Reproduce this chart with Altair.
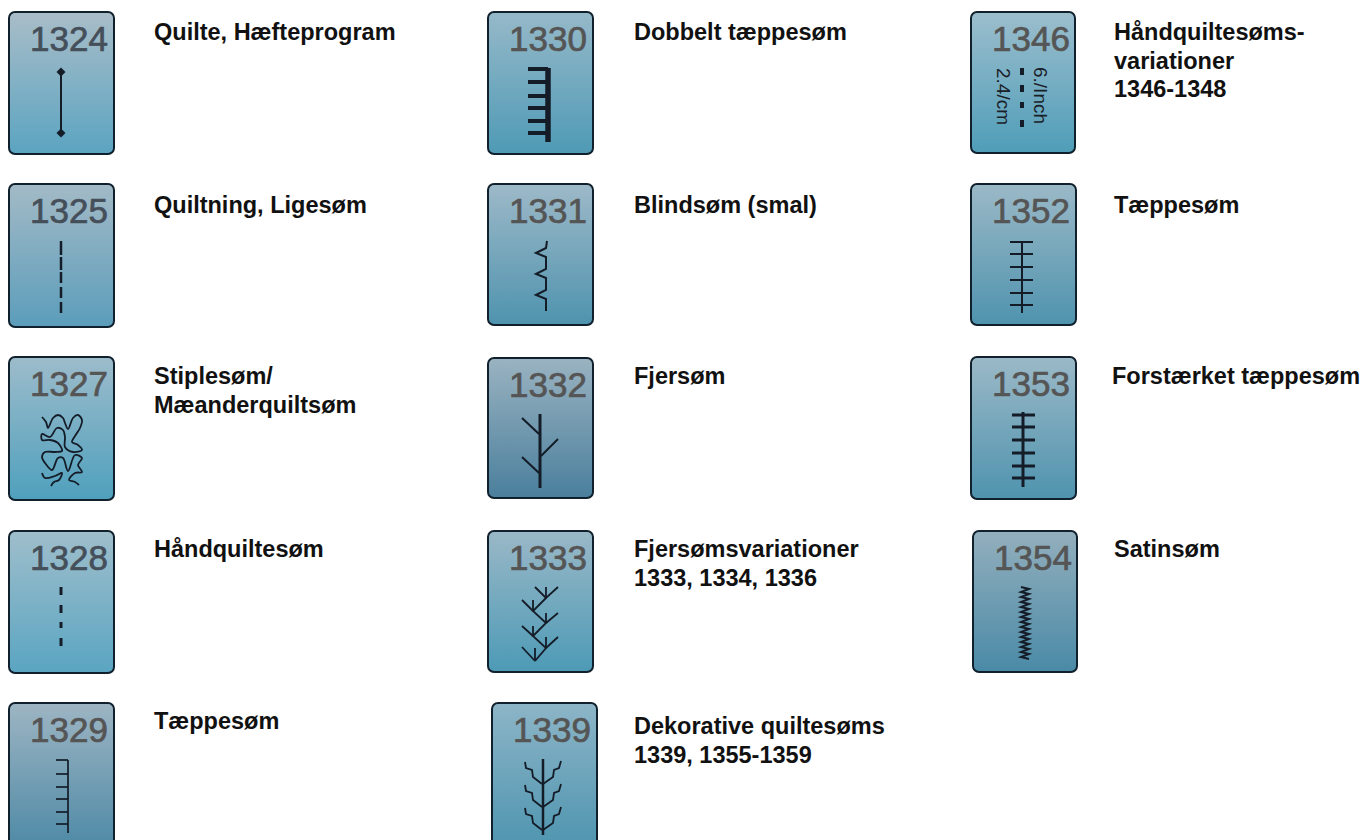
import altair as alt
import pandas as pd

# ---- tiles: stitch number, catalogue text, grid position
codes = ["1324", "1325", "1327", "1328", "1329",
         "1330", "1331", "1332", "1333", "1339",
         "1346", "1352", "1353", "1354"]
labels = [["Quilte, Hæfteprogram"], ["Quiltning, Ligesøm"], ["Stiplesøm/", "Mæanderquiltsøm"],
          ["Håndquiltesøm"], ["Tæppesøm"],
          ["Dobbelt tæppesøm"], ["Blindsøm (smal)"], ["Fjersøm"],
          ["Fjersømsvariationer", "1333, 1334, 1336"], ["Dekorative quiltesøms", "1339, 1355-1359"],
          ["Håndquiltesøms-", "variationer", "1346-1348"], ["Tæppesøm"],
          ["Forstærket tæppesøm"], ["Satinsøm"]]
tile_left = [9, 9, 9, 9, 9, 488, 488, 488, 488, 492, 971, 971, 971, 973]
tile_top = [12, 184, 357, 531, 703, 12, 184, 358, 531, 703, 12, 184, 357, 531]
tile_right = [114, 114, 114, 114, 114, 593, 593, 593, 593, 597, 1075, 1076, 1076, 1077]
tile_bottom = [154, 327, 500, 673, 846, 154, 325, 498, 672, 846, 153, 325, 499, 672]
label_left = [154, 154, 154, 154, 154, 634, 634, 634, 634, 634, 1114, 1114, 1112, 1114]
label_mid = [33, 206, 377, 550, 722, 33, 206, 377, 550, 727, 33, 206, 377, 550]
grad_top = ["#a9bdc8", "#a3bac6", "#9dbccb", "#9fbecb", "#9db5c3", "#96b9c9", "#9db9c8",
            "#9ab3c1", "#9ab8c7", "#8db5c7", "#9cbecd", "#9bb9c7", "#9bb9c7", "#93afbd"]
grad_bottom = ["#5ba4c1", "#5b9dbb", "#4fa0bd", "#5aa5c2", "#4f8aa6", "#4f9ab5", "#4f93ae",
               "#4a7f9c", "#4d9ab6", "#4f95b0", "#4f9db8", "#4f93ae", "#4f93ae", "#4a8aa6"]
num_color = ["#454f5a", "#454f5a", "#555555", "#454f5a", "#555555", "#555555", "#555555",
             "#555555", "#555555", "#555555", "#555555", "#555555", "#555555", "#555555"]

# ---- stitch drawings, in pixels from each tile's top-left corner: (code, width, points)
stitches = [
    ("1324", 2.0, [(52, 60), (52, 121)]),
    ("1325", 2.5, [(52, 57), (52, 71)]), ("1325", 2.5, [(52, 73), (52, 86)]),
    ("1325", 2.5, [(52, 88), (52, 99)]), ("1325", 2.5, [(52, 103), (52, 114)]),
    ("1325", 2.5, [(52, 118), (52, 129)]),
    ("1328", 3.0, [(52, 56), (52, 64)]), ("1328", 3.0, [(52, 74), (52, 82)]),
    ("1328", 3.0, [(52, 91), (52, 97)]), ("1328", 3.0, [(52, 107), (52, 115)]),
    ("1329", 1.7, [(59, 57), (59, 130)]), ("1329", 1.7, [(47, 57), (59, 57)]),
    ("1329", 1.7, [(47, 71), (59, 71)]), ("1329", 1.7, [(47, 84), (59, 84)]),
    ("1329", 1.7, [(47, 96), (59, 96)]), ("1329", 1.7, [(47, 109), (59, 109)]),
    ("1329", 1.7, [(47, 121), (59, 121)]),
    ("1330", 5.5, [(60, 56), (60, 130)]), ("1330", 4.0, [(40, 57), (60, 57)]),
    ("1330", 4.0, [(40, 70), (60, 70)]), ("1330", 4.0, [(40, 84), (60, 84)]),
    ("1330", 4.0, [(40, 96), (60, 96)]), ("1330", 4.0, [(40, 109), (60, 109)]),
    ("1330", 4.0, [(40, 121), (60, 121)]),
    ("1331", 2.0, [(59, 57), (58, 64), (48, 69), (58, 73), (58, 85), (48, 90), (58, 94),
                   (58, 106), (48, 111), (58, 115), (58, 127)]),
    ("1332", 3.0, [(52, 56), (52, 130)]), ("1332", 2.0, [(34, 60), (51, 76)]),
    ("1332", 2.0, [(70, 81), (53, 98)]), ("1332", 2.0, [(34, 99), (51, 115)]),
    ("1333", 1.8, [(58, 67), (45, 80), (58, 92), (45, 105), (58, 117), (47, 130)]),
    ("1333", 1.8, [(47, 56), (58, 67), (70, 56)]), ("1333", 1.8, [(58, 56), (58, 67)]),
    ("1333", 1.8, [(34, 69), (45, 80)]), ("1333", 1.8, [(45, 69), (45, 80)]),
    ("1333", 1.8, [(70, 82), (58, 92)]), ("1333", 1.8, [(58, 82), (58, 92)]),
    ("1333", 1.8, [(34, 95), (45, 105)]), ("1333", 1.8, [(45, 95), (45, 105)]),
    ("1333", 1.8, [(70, 106), (58, 117)]), ("1333", 1.8, [(58, 106), (58, 117)]),
    ("1333", 1.8, [(34, 116), (47, 130)]), ("1333", 1.8, [(47, 117), (47, 130)]),
    ("1339", 2.5, [(51, 56), (51, 132)]),
    ("1339", 1.8, [(33, 59), (34, 65), (40, 67), (41, 74), (50, 81)]),
    ("1339", 1.8, [(69, 58), (67, 65), (62, 67), (61, 74), (51, 81)]),
    ("1339", 1.8, [(33, 82), (34, 88), (40, 90), (41, 97), (50, 104)]),
    ("1339", 1.8, [(69, 81), (67, 88), (62, 90), (61, 97), (51, 104)]),
    ("1339", 1.8, [(33, 105), (34, 111), (40, 113), (41, 120), (50, 127)]),
    ("1339", 1.8, [(69, 104), (67, 111), (62, 113), (61, 120), (51, 127)]),
    ("1346", 4.0, [(51, 56), (51, 63)]), ("1346", 4.0, [(51, 73), (51, 80)]),
    ("1346", 4.0, [(51, 90), (51, 96)]), ("1346", 4.0, [(51, 108), (51, 115)]),
    ("1352", 2.0, [(51, 57), (51, 129)]), ("1352", 2.0, [(39, 58), (62, 58)]),
    ("1352", 2.0, [(39, 70), (62, 70)]), ("1352", 2.0, [(39, 83), (62, 83)]),
    ("1352", 2.0, [(39, 96), (62, 96)]), ("1352", 2.0, [(39, 109), (62, 109)]),
    ("1352", 2.0, [(39, 121), (62, 121)]),
    ("1353", 3.0, [(52, 55), (52, 130)]), ("1353", 3.0, [(41, 58), (64, 58)]),
    ("1353", 3.0, [(41, 70), (64, 70)]), ("1353", 3.0, [(41, 83), (64, 83)]),
    ("1353", 3.0, [(41, 96), (64, 96)]), ("1353", 3.0, [(41, 109), (64, 109)]),
    ("1353", 3.0, [(41, 121), (64, 121)]),
    ("1354", 2.0, [(48, 56), (56, 58), (48, 61), (56, 63), (48, 66), (56, 68), (48, 71), (56, 73),
                   (48, 76), (56, 78), (48, 81), (56, 83), (48, 86), (56, 88), (48, 91), (56, 93),
                   (48, 96), (56, 98), (48, 101), (56, 103), (48, 106), (56, 108), (48, 111),
                   (56, 113), (48, 116), (56, 118), (48, 121), (56, 123), (48, 126), (56, 128)]),
]
# the free-running meander of stitch 1327 is drawn as a smooth curve
meanders = [
    ("1327", 1.8, [(33, 60), (37, 65), (39, 71), (44, 61), (49, 58), (54, 61), (56, 66), (59, 72),
                   (64, 61), (69, 58), (73, 63), (71, 71), (66, 79), (63, 85), (69, 88), (73, 93),
                   (64, 95), (56, 90), (56, 80), (54, 73), (48, 71), (41, 80), (33, 77), (33, 83),
                   (41, 83), (49, 86), (53, 94), (46, 95), (36, 95), (33, 100), (36, 106), (43, 113),
                   (49, 101), (54, 101), (59, 114), (66, 98), (73, 101), (69, 108), (73, 115),
                   (66, 116), (60, 123), (66, 125), (70, 128)]),
    ("1327", 1.8, [(33, 116), (36, 121), (46, 119), (53, 116), (50, 123), (45, 125), (42, 129)]),
]
knots = [("1324", 52, 60), ("1324", 52, 121)]
rotated_notes = [("1346", "6./Inch", 69, 55), ("1346", "2.4/cm", 32, 56)]

# ---- tables built from the arrays
left_of = dict(zip(codes, tile_left))
top_of = dict(zip(codes, tile_top))


def path_table(paths):
    rows = []
    for pid, (code, w, pts) in enumerate(paths):
        for k, (px, py) in enumerate(pts):
            rows.append({"pid": pid, "k": k, "w": w,
                         "x": left_of[code] + px, "y": top_of[code] + py})
    return pd.DataFrame(rows)


lines_df = path_table(stitches)
meander_df = path_table(meanders)
knots_df = pd.DataFrame([{"x": left_of[c] + px, "y": top_of[c] + py} for c, px, py in knots])
notes_df = pd.DataFrame([{"t": t, "x": left_of[c] + px, "y": top_of[c] + py} for c, t, px, py in rotated_notes])
nums_df = pd.DataFrame({"t": codes, "x": [l + 21 for l in tile_left], "y": [t + 28 for t in tile_top], "c": num_color})
label_rows = []
for lab, lx, ly in zip(labels, label_left, label_mid):
    for i, s in enumerate(lab):
        label_rows.append({"t": s, "x": lx, "y": ly + 28.5 * i})
labels_df = pd.DataFrame(label_rows)

X = alt.Scale(domain=[8, 1361], nice=False, zero=False)
Y = alt.Scale(domain=[840, 8], nice=False, zero=False)
ex = alt.X("x:Q", scale=X, axis=None)
ey = alt.Y("y:Q", scale=Y, axis=None)

layers = []
for i in range(len(codes)):
    df = pd.DataFrame([{"x": tile_left[i], "x2": tile_right[i], "y": tile_top[i], "y2": tile_bottom[i]}])
    grad = alt.Gradient(gradient="linear", x1=0, y1=0, x2=0, y2=1,
                        stops=[alt.GradientStop(color=grad_top[i], offset=0),
                               alt.GradientStop(color=grad_bottom[i], offset=1)])
    layers.append(alt.Chart(df).mark_rect(fill=grad, stroke="#10202c", strokeWidth=2,
                                          cornerRadius=6, clip=True).encode(
        x=ex, x2="x2:Q", y=ey, y2="y2:Q"))

layers.append(alt.Chart(nums_df).mark_text(align="left", baseline="middle", font="Liberation Sans",
                                           fontSize=35, strokeWidth=0.7).encode(
    x=ex, y=ey, text="t:N", color=alt.Color("c:N", scale=None), stroke=alt.Stroke("c:N", scale=None)))
layers.append(alt.Chart(lines_df).mark_line(color="#141c28", strokeCap="butt", strokeJoin="miter").encode(
    x=ex, y=ey, detail="pid:N", order="k:Q", strokeWidth=alt.StrokeWidth("w:Q", scale=None)))
layers.append(alt.Chart(meander_df).mark_line(color="#141c28", interpolate="catmull-rom").encode(
    x=ex, y=ey, detail="pid:N", order="k:Q", strokeWidth=alt.StrokeWidth("w:Q", scale=None)))
layers.append(alt.Chart(knots_df).mark_point(shape="diamond", filled=True, size=80, color="#141c28", opacity=1).encode(
    x=ex, y=ey))
layers.append(alt.Chart(notes_df).mark_text(align="left", baseline="middle", angle=90, font="Liberation Sans",
                                            fontSize=19, color="#1a2028").encode(x=ex, y=ey, text="t:N"))
layers.append(alt.Chart(labels_df).mark_text(align="left", baseline="middle", font="Liberation Sans",
                                             fontWeight="bold", fontSize=23.5, color="#111111").encode(
    x=ex, y=ey, text="t:N"))

chart = alt.layer(*layers).properties(width=1353, height=832, padding=0, autosize="none",
                                      background="#ffffff").configure_view(stroke=None)
chart.save("out.html", embed_options={"renderer": "svg", "actions": False})
